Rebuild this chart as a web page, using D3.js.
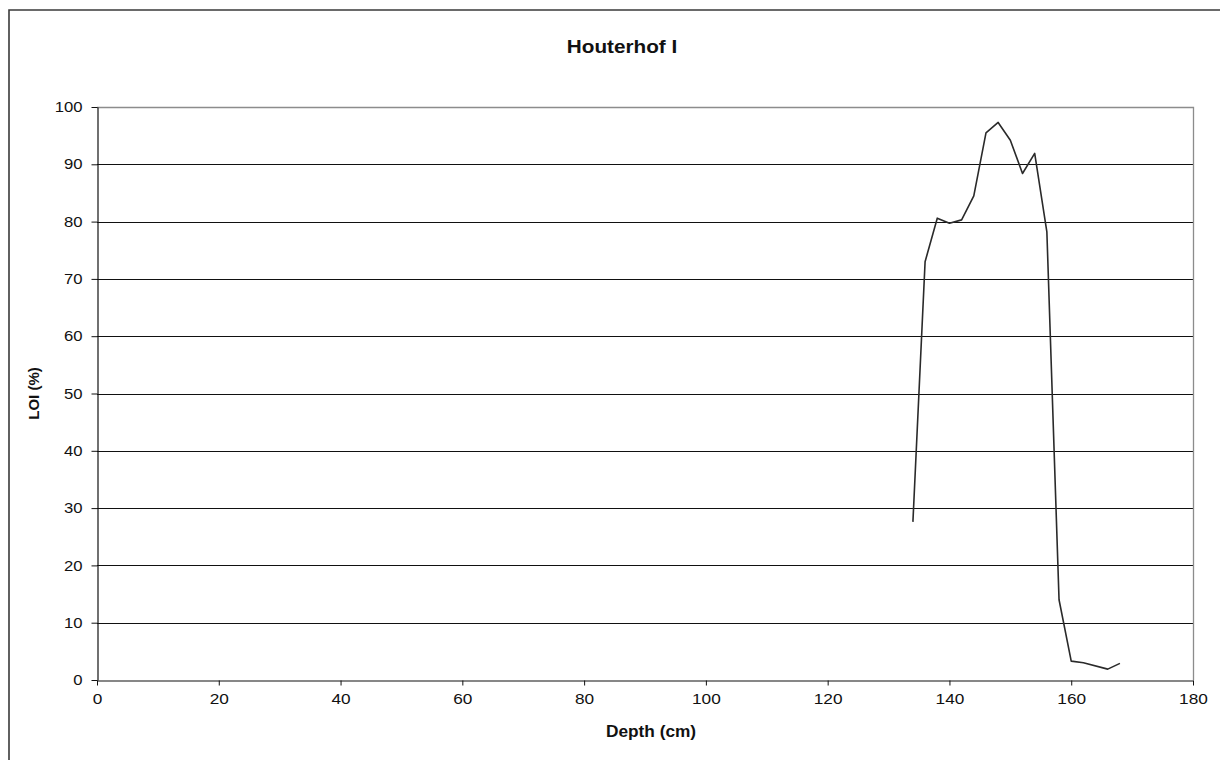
<!DOCTYPE html>
<html>
<head>
<meta charset="utf-8">
<script src="https://cdn.jsdelivr.net/npm/d3@7"></script>
<style>
  html, body { margin: 0; padding: 0; background: #fff; }
  svg { display: block; font-family: "Liberation Sans", Arial, sans-serif; }
</style>
</head>
<body>
<svg id="chart" width="1220" height="760"></svg>
<script>
// Loss on ignition profile, Houterhof I
const depth = [134, 136, 138, 140, 142, 144, 146, 148, 150, 152, 154, 156, 158, 160, 162, 166, 168];
const loi   = [27.6, 73.0, 80.6, 79.7, 80.3, 84.5, 95.5, 97.3, 94.2, 88.4, 91.9, 78.2, 14.0, 3.3, 3.0, 1.9, 2.9];
const xTicks = [0, 20, 40, 60, 80, 100, 120, 140, 160, 180];
const yTicks = [0, 10, 20, 30, 40, 50, 60, 70, 80, 90, 100];

const titleText = "Houterhof I";
const xLabel = "Depth (cm)";
const yLabel = "LOI (%)";

const svg = d3.select("#chart");
const plot = { left: 97, right: 1193, top: 107, bottom: 680 };
const stretch = 1.15; // lettering is drawn slightly wide

const x = d3.scaleLinear().domain([0, 180]).range([plot.left, plot.right]);
const y = d3.scaleLinear().domain([0, 100]).range([plot.bottom, plot.top]);

// outer chart frame (top and left edges visible)
svg.append("path")
  .attr("d", "M9,760 V10 H1220")
  .attr("fill", "none")
  .attr("stroke", "#3a3a3a")
  .attr("stroke-width", 1.6);

// horizontal gridlines
svg.append("g")
  .selectAll("line")
  .data(yTicks.filter(d => d > 0 && d < 100))
  .join("line")
  .attr("x1", plot.left).attr("x2", plot.right)
  .attr("y1", d => Math.round(y(d)) + 0.5)
  .attr("y2", d => Math.round(y(d)) + 0.5)
  .attr("stroke", "#111")
  .attr("stroke-width", 1.2);

// plot area border (top and right)
svg.append("path")
  .attr("d", `M${plot.left},${plot.top + 0.5} H${plot.right + 0.5} V${plot.bottom}`)
  .attr("fill", "none")
  .attr("stroke", "#8c8c8c")
  .attr("stroke-width", 1.3);

// y axis
const yAxis = d3.axisLeft(y).tickValues(yTicks).tickSize(6).tickPadding(9).tickSizeOuter(0);
const gy = svg.append("g").attr("transform", `translate(${plot.left + 0.5},0)`).call(yAxis);
gy.select(".domain").attr("stroke", "#111").attr("stroke-width", 1.2);
gy.selectAll(".tick line").attr("stroke", "#111");
gy.selectAll(".tick text")
  .attr("font-size", 14.5)
  .attr("fill", "#111")
  .attr("font-family", "'Liberation Sans', Arial, sans-serif")
  .attr("x", -15 / stretch)
  .attr("transform", `scale(${stretch},1)`);

// x axis
const xAxis = d3.axisBottom(x).tickValues(xTicks).tickSize(5).tickPadding(8).tickSizeOuter(0);
const gx = svg.append("g").attr("transform", `translate(0,${plot.bottom + 0.5})`).call(xAxis);
gx.select(".domain").attr("stroke", "#111").attr("stroke-width", 1.2);
gx.selectAll(".tick line").attr("stroke", "#111");
gx.selectAll(".tick text")
  .attr("font-size", 15)
  .attr("fill", "#111")
  .attr("font-family", "'Liberation Sans', Arial, sans-serif")
  .attr("transform", `scale(${stretch},1)`);

// data line
const line = d3.line().x((d, i) => x(depth[i])).y(d => y(d));
svg.append("path")
  .datum(loi)
  .attr("d", line)
  .attr("fill", "none")
  .attr("stroke", "#2a2a2a")
  .attr("stroke-width", 1.6)
  .attr("stroke-linejoin", "round");

// title
svg.append("text")
  .attr("transform", `translate(622,53) scale(1.12,1)`)
  .attr("text-anchor", "middle")
  .attr("font-size", 18.5)
  .attr("font-weight", "bold")
  .attr("fill", "#111")
  .text(titleText);

// x axis title
svg.append("text")
  .attr("transform", `translate(651,737) scale(1.08,1)`)
  .attr("text-anchor", "middle")
  .attr("font-size", 16)
  .attr("font-weight", "bold")
  .attr("fill", "#111")
  .text(xLabel);

// y axis title
svg.append("text")
  .attr("transform", `translate(39,${(plot.top + plot.bottom) / 2}) rotate(-90)`)
  .attr("text-anchor", "middle")
  .attr("font-size", 15)
  .attr("font-weight", "bold")
  .attr("fill", "#111")
  .text(yLabel);
</script>
</body>
</html>
